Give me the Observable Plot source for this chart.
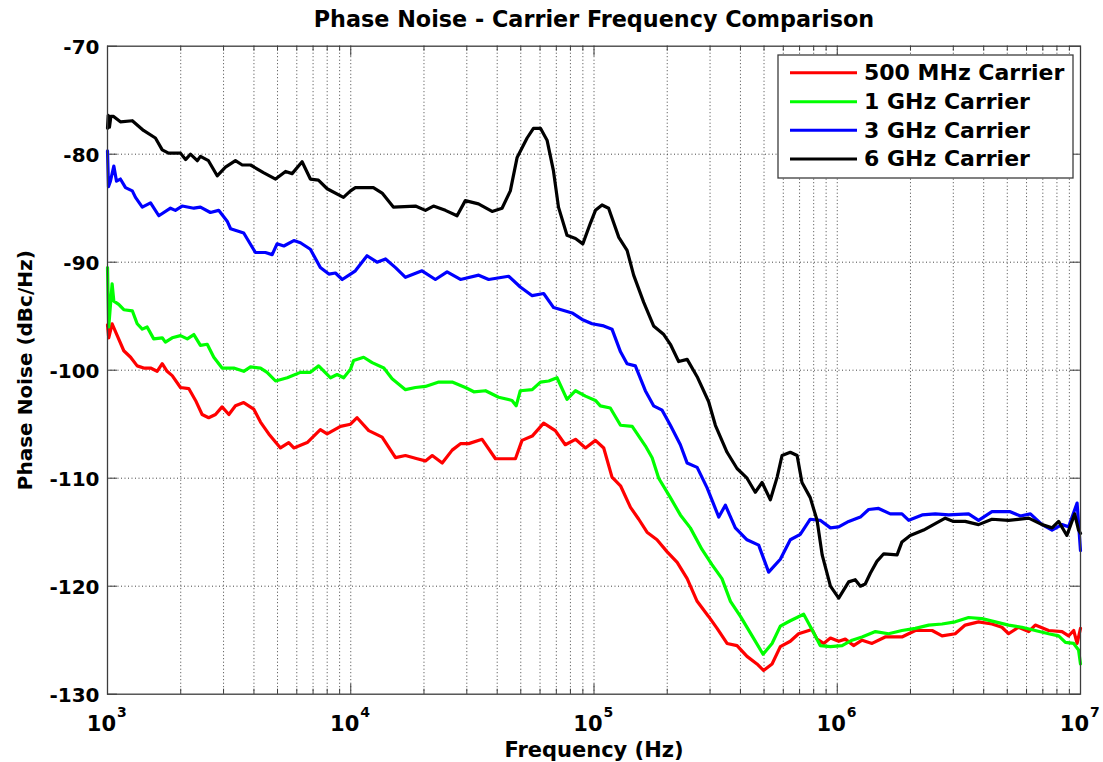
<!DOCTYPE html>
<html>
<head>
<meta charset="utf-8">
<script src="https://cdn.jsdelivr.net/npm/d3@7"></script>
<script src="https://cdn.jsdelivr.net/npm/@observablehq/plot@0.6"></script>
<style>
  html, body { margin: 0; padding: 0; background: #fff; }
  #chart svg { display: block; }
</style>
</head>
<body>
<div id="chart"></div>
<script>
// ---------- data (log10 of frequency in Hz, phase noise in dBc/Hz) ----------
const seriesNames = ["500 MHz Carrier", "1 GHz Carrier", "3 GHz Carrier", "6 GHz Carrier"];
const seriesColors = ["#ff0000", "#00ff00", "#0000ff", "#000000"];

const red500MHz = [[3.000,-95.8],[3.005,-97.0],[3.019,-95.7],[3.040,-96.8],[3.067,-98.2],[3.095,-98.8],[3.122,-99.6],[3.149,-99.8],[3.177,-99.8],[3.204,-100.1],[3.225,-99.4],[3.245,-100.1],[3.266,-100.5],[3.300,-101.6],[3.334,-101.7],[3.362,-102.8],[3.389,-104.1],[3.416,-104.4],[3.444,-104.1],[3.471,-103.4],[3.499,-104.1],[3.526,-103.3],[3.560,-103.0],[3.601,-103.6],[3.629,-104.8],[3.663,-105.9],[3.711,-107.2],[3.745,-106.7],[3.766,-107.2],[3.821,-106.7],[3.875,-105.5],[3.903,-105.9],[3.958,-105.2],[3.999,-105.0],[4.026,-104.4],[4.074,-105.6],[4.129,-106.2],[4.184,-108.1],[4.225,-107.9],[4.273,-108.2],[4.307,-108.4],[4.335,-107.9],[4.376,-108.6],[4.417,-107.4],[4.451,-106.8],[4.485,-106.8],[4.540,-106.4],[4.595,-108.2],[4.636,-108.2],[4.677,-108.2],[4.704,-106.5],[4.746,-106.1],[4.793,-104.9],[4.841,-105.6],[4.882,-106.9],[4.924,-106.4],[4.965,-107.2],[5.006,-106.5],[5.040,-107.2],[5.074,-109.9],[5.109,-110.7],[5.150,-112.7],[5.184,-113.8],[5.218,-115.0],[5.259,-115.7],[5.300,-116.8],[5.342,-117.8],[5.383,-119.3],[5.424,-121.4],[5.471,-122.8],[5.506,-123.9],[5.547,-125.3],[5.588,-125.5],[5.629,-126.5],[5.670,-127.2],[5.697,-127.8],[5.732,-127.2],[5.766,-125.6],[5.807,-125.1],[5.841,-124.4],[5.896,-124.0],[5.917,-124.9],[5.944,-125.3],[5.972,-124.8],[6.006,-125.1],[6.033,-124.9],[6.067,-125.5],[6.102,-125.0],[6.143,-125.3],[6.197,-124.7],[6.266,-124.7],[6.321,-124.1],[6.390,-124.1],[6.431,-124.6],[6.485,-124.4],[6.526,-123.6],[6.581,-123.3],[6.636,-123.5],[6.677,-123.8],[6.704,-124.4],[6.745,-123.8],[6.787,-124.2],[6.814,-123.6],[6.869,-124.1],[6.924,-124.2],[6.951,-124.6],[6.972,-124.1],[6.986,-125.3],[7.000,-123.9]];

const green1GHz = [[3.000,-90.5],[3.005,-96.0],[3.019,-92.0],[3.026,-93.6],[3.046,-93.9],[3.067,-94.4],[3.102,-94.5],[3.122,-95.7],[3.143,-96.2],[3.163,-96.0],[3.190,-97.1],[3.225,-97.0],[3.238,-97.4],[3.266,-97.0],[3.300,-96.8],[3.328,-97.1],[3.355,-96.7],[3.382,-97.7],[3.410,-97.6],[3.437,-98.8],[3.471,-99.8],[3.519,-99.8],[3.560,-100.1],[3.588,-99.7],[3.629,-99.8],[3.656,-100.2],[3.691,-101.0],[3.739,-100.7],[3.793,-100.2],[3.834,-100.2],[3.868,-99.6],[3.917,-100.7],[3.944,-100.4],[3.971,-100.7],[3.999,-99.9],[4.012,-99.1],[4.053,-98.8],[4.088,-99.3],[4.136,-99.8],[4.170,-100.8],[4.225,-101.8],[4.266,-101.6],[4.307,-101.5],[4.362,-101.1],[4.417,-101.1],[4.471,-101.6],[4.506,-102.0],[4.554,-101.9],[4.608,-102.5],[4.663,-102.8],[4.680,-103.3],[4.697,-101.9],[4.746,-101.8],[4.780,-101.1],[4.814,-101.0],[4.848,-100.7],[4.889,-102.7],[4.924,-101.9],[4.965,-102.4],[5.006,-102.8],[5.026,-103.3],[5.067,-103.5],[5.109,-105.1],[5.157,-105.2],[5.211,-107.0],[5.239,-108.1],[5.266,-110.0],[5.314,-111.8],[5.355,-113.4],[5.396,-114.6],[5.444,-116.6],[5.485,-118.0],[5.526,-119.3],[5.561,-121.4],[5.602,-122.8],[5.650,-124.6],[5.695,-126.3],[5.732,-125.3],[5.766,-123.7],[5.807,-123.2],[5.862,-122.6],[5.896,-124.0],[5.930,-125.5],[5.972,-125.6],[6.020,-125.5],[6.061,-125.0],[6.102,-124.7],[6.157,-124.2],[6.211,-124.4],[6.266,-124.1],[6.321,-123.9],[6.376,-123.6],[6.431,-123.5],[6.485,-123.3],[6.540,-122.9],[6.595,-123.0],[6.650,-123.3],[6.704,-123.6],[6.759,-123.8],[6.814,-124.1],[6.869,-124.4],[6.910,-124.6],[6.938,-125.2],[6.972,-125.3],[6.992,-125.9],[7.000,-127.2]];

const blue3GHz = [[3.000,-79.7],[3.004,-83.0],[3.012,-82.5],[3.026,-81.1],[3.037,-82.5],[3.053,-82.3],[3.074,-83.1],[3.102,-83.4],[3.115,-84.0],[3.143,-84.9],[3.177,-84.5],[3.211,-85.7],[3.259,-85.0],[3.279,-85.2],[3.307,-84.8],[3.355,-85.0],[3.382,-84.9],[3.423,-85.4],[3.457,-85.2],[3.492,-86.2],[3.506,-86.9],[3.560,-87.3],[3.608,-89.1],[3.649,-89.1],[3.677,-89.3],[3.697,-88.3],[3.725,-88.5],[3.766,-88.0],[3.793,-88.2],[3.834,-88.8],[3.875,-90.5],[3.910,-91.1],[3.937,-91.0],[3.965,-91.6],[3.999,-91.1],[4.019,-90.8],[4.067,-89.4],[4.108,-90.0],[4.143,-89.7],[4.184,-90.5],[4.225,-91.4],[4.293,-90.8],[4.348,-91.6],[4.396,-90.9],[4.451,-91.6],[4.526,-91.2],[4.567,-91.6],[4.649,-91.3],[4.697,-92.3],[4.746,-93.1],[4.793,-92.9],[4.834,-94.2],[4.910,-94.7],[4.951,-95.3],[4.992,-95.7],[5.040,-95.9],[5.074,-96.2],[5.109,-98.3],[5.136,-99.4],[5.170,-99.6],[5.211,-101.9],[5.245,-103.3],[5.280,-103.7],[5.314,-105.1],[5.355,-106.9],[5.383,-108.6],[5.424,-109.0],[5.465,-110.9],[5.513,-113.6],[5.540,-112.5],[5.581,-114.6],[5.629,-115.7],[5.677,-116.2],[5.718,-118.7],[5.766,-117.5],[5.807,-115.7],[5.848,-115.2],[5.889,-113.8],[5.930,-113.9],[5.972,-114.6],[6.006,-114.5],[6.047,-114.0],[6.095,-113.6],[6.129,-112.9],[6.170,-112.8],[6.218,-113.3],[6.266,-113.3],[6.294,-113.9],[6.349,-113.4],[6.403,-113.3],[6.458,-113.4],[6.540,-113.3],[6.581,-113.9],[6.636,-113.1],[6.711,-113.1],[6.753,-113.5],[6.794,-113.3],[6.842,-114.3],[6.883,-114.8],[6.924,-114.3],[6.951,-114.5],[6.986,-112.3],[7.000,-116.7]];

const black6GHz = [[3.000,-77.6],[3.003,-76.4],[3.008,-77.5],[3.014,-76.5],[3.025,-76.5],[3.053,-77.0],[3.102,-76.9],[3.148,-77.8],[3.197,-78.5],[3.225,-79.6],[3.251,-79.9],[3.300,-79.9],[3.321,-80.5],[3.341,-80.0],[3.369,-80.6],[3.382,-80.2],[3.415,-80.6],[3.451,-82.0],[3.485,-81.2],[3.526,-80.6],[3.554,-81.0],[3.588,-81.0],[3.641,-81.7],[3.691,-82.3],[3.732,-81.6],[3.759,-81.8],[3.800,-80.7],[3.834,-82.3],[3.867,-82.4],[3.903,-83.2],[3.970,-84.0],[3.999,-83.4],[4.019,-83.1],[4.093,-83.1],[4.129,-83.6],[4.175,-84.9],[4.266,-84.8],[4.307,-85.2],[4.340,-84.8],[4.389,-85.2],[4.437,-85.7],[4.471,-84.3],[4.525,-84.6],[4.581,-85.3],[4.622,-85.0],[4.656,-83.4],[4.684,-80.3],[4.725,-78.5],[4.751,-77.6],[4.780,-77.6],[4.807,-78.7],[4.833,-81.5],[4.854,-84.9],[4.889,-87.5],[4.924,-87.8],[4.954,-88.3],[4.985,-86.4],[5.006,-85.2],[5.033,-84.7],[5.060,-85.0],[5.102,-87.7],[5.136,-88.9],[5.163,-91.2],[5.204,-93.7],[5.245,-95.9],[5.287,-96.7],[5.314,-97.6],[5.348,-99.2],[5.383,-99.0],[5.424,-100.6],[5.471,-102.9],[5.499,-105.1],[5.547,-107.6],[5.588,-109.1],[5.629,-110.0],[5.663,-111.3],[5.691,-110.4],[5.725,-112.0],[5.753,-109.9],[5.773,-107.9],[5.807,-107.6],[5.835,-107.9],[5.855,-110.4],[5.889,-111.8],[5.917,-113.9],[5.938,-117.1],[5.972,-120.0],[6.006,-121.1],[6.047,-119.6],[6.074,-119.4],[6.095,-120.0],[6.115,-119.8],[6.136,-118.8],[6.163,-117.7],[6.191,-117.0],[6.246,-117.1],[6.266,-115.9],[6.300,-115.3],[6.355,-114.8],[6.403,-114.2],[6.444,-113.7],[6.478,-114.0],[6.526,-114.0],[6.581,-114.3],[6.636,-113.8],[6.704,-113.9],[6.787,-113.7],[6.842,-114.3],[6.883,-114.6],[6.910,-114.0],[6.944,-115.3],[6.976,-113.3],[6.992,-114.8],[7.000,-115.1]];

// axis ticks
const yTicks = [-70, -80, -90, -100, -110, -120, -130];
const decadeExponents = [3, 4, 5, 6, 7];
const mantissas = [1, 2, 3, 4, 5, 6, 7, 8, 9];

// ---------- build tables ----------
const seriesData = [red500MHz, green1GHz, blue3GHz, black6GHz];
const rows = seriesData.flatMap((pts, i) =>
  pts.map(([lf, db]) => ({ freq: Math.pow(10, lf), db, name: seriesNames[i] })));

const decades = decadeExponents.map(e => Math.pow(10, e));
const allTicks = decadeExponents.slice(0, -1)
  .flatMap(e => mantissas.map(m => m * Math.pow(10, e)))
  .concat([1e7]);
const minorTicks = allTicks.filter(f => !decades.includes(f));
const innerX = allTicks.filter(f => f > 1e3 && f < 1e7);
const innerY = yTicks.filter(v => v > -130 && v < -70);

const FONT = "DejaVu Sans, Verdana, sans-serif";
const frameColor = "#3c3c3c";
const gridColor = "#444";
// tick lengths (in data units)
const tickMinorDb = 0.46, tickMajorDb = 0.93, tickYFactor = 1.099;

const plot = Plot.plot({
  width: 1103,
  height: 762,
  marginLeft: 107,
  marginRight: 23,
  marginTop: 45.7,
  marginBottom: 68.3,
  style: { fontFamily: FONT, fontWeight: "bold", background: "#fff", color: "#000" },
  x: { type: "log", domain: [1e3, 1e7], axis: null },
  y: { domain: [-130, -70], axis: null },
  color: { domain: seriesNames, range: seriesColors },
  marks: [
    // dotted grid
    Plot.ruleX(innerX, { x: d => d, stroke: gridColor, strokeWidth: 1, strokeDasharray: "1,2.5" }),
    Plot.ruleY(innerY, { y: d => d, stroke: gridColor, strokeWidth: 1, strokeDasharray: "1,2.5" }),
    // inner ticks, bottom & top
    Plot.ruleX(minorTicks, { x: d => d, y1: -130, y2: -130 + tickMinorDb, stroke: frameColor }),
    Plot.ruleX(minorTicks, { x: d => d, y1: -70, y2: -70 - tickMinorDb, stroke: frameColor }),
    Plot.ruleX(decades, { x: d => d, y1: -130, y2: -130 + tickMajorDb, stroke: frameColor }),
    Plot.ruleX(decades, { x: d => d, y1: -70, y2: -70 - tickMajorDb, stroke: frameColor }),
    // inner ticks, left & right
    Plot.ruleY(yTicks, { y: d => d, x1: 1e3, x2: 1e3 * tickYFactor, stroke: frameColor }),
    Plot.ruleY(yTicks, { y: d => d, x1: 1e7 / tickYFactor, x2: 1e7, stroke: frameColor }),
    // data lines
    Plot.line(rows, {
      x: "freq", y: "db", z: "name", stroke: "name",
      strokeWidth: 3.2, strokeLinejoin: "round", strokeLinecap: "round"
    }),
    Plot.frame({ stroke: frameColor, strokeWidth: 1.3 }),
    // y tick labels
    Plot.text(yTicks, {
      y: d => d, text: d => String(d), frameAnchor: "left",
      textAnchor: "end", dx: -8, dy: 1, fontSize: 20, fontWeight: "bold", fill: "#000"
    }),
    // x tick labels: 10 with superscript exponent
    Plot.text(decades, {
      x: d => d, text: () => "10", frameAnchor: "bottom", lineAnchor: "bottom",
      textAnchor: "end", dx: 8.5, dy: 36.5, fontSize: 21, fontWeight: "bold", fill: "#000"
    }),
    Plot.text(decadeExponents, {
      x: d => Math.pow(10, d), text: d => String(d), frameAnchor: "bottom", lineAnchor: "bottom",
      textAnchor: "start", dx: 9.5, dy: 23, fontSize: 14, fontWeight: "bold", fill: "#000"
    }),
    // title
    Plot.text(["Phase Noise - Carrier Frequency Comparison"], {
      text: d => d, frameAnchor: "top", lineAnchor: "bottom", textAnchor: "middle", dy: -19,
      fontSize: 22.3, fontWeight: "bold", fill: "#000"
    }),
    // axis labels
    Plot.text(["Frequency (Hz)"], {
      text: d => d, frameAnchor: "bottom", lineAnchor: "bottom", textAnchor: "middle", dy: 62.5,
      fontSize: 21, fontWeight: "bold", fill: "#000"
    }),
    Plot.text(["Phase Noise (dBc/Hz)"], {
      text: d => d, frameAnchor: "left", lineAnchor: "bottom", textAnchor: "middle",
      rotate: -90, dx: -76,
      fontSize: 20, fontWeight: "bold", fill: "#000"
    })
  ]
});

// ---------- legend inside the plot (upper right) ----------
const svg = d3.select(plot);
const lg = svg.append("g").attr("font-family", FONT).attr("font-weight", "bold")
  .attr("text-anchor", "start");
lg.append("rect").attr("x", 778).attr("y", 55).attr("width", 295).attr("height", 123)
  .attr("fill", "#fff").attr("stroke", frameColor).attr("stroke-width", 1.3);
const rowY = [72.7, 101.7, 130.3, 159];
seriesNames.forEach((name, i) => {
  lg.append("line").attr("x1", 790).attr("x2", 857).attr("y1", rowY[i]).attr("y2", rowY[i])
    .attr("stroke", seriesColors[i]).attr("stroke-width", 3);
  lg.append("text").attr("x", 864).attr("y", rowY[i] + 7.4).attr("text-anchor", "start")
    .attr("font-size", 22).attr("fill", "#000").text(name);
});

document.getElementById("chart").appendChild(plot);
</script>
</body>
</html>
